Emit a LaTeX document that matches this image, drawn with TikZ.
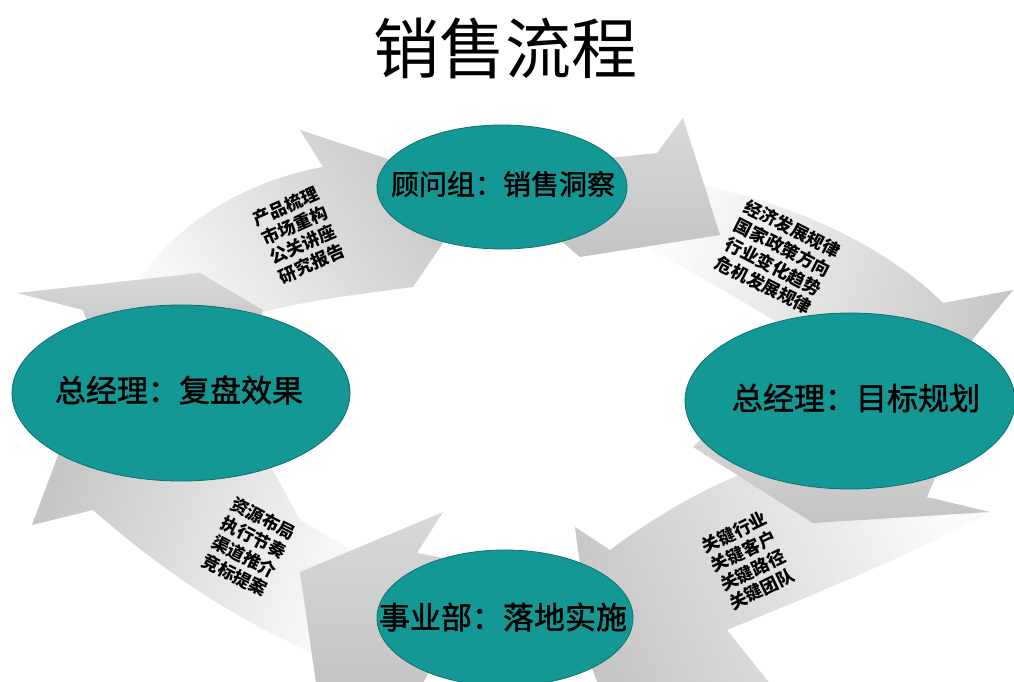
\documentclass[tikz,border=0pt]{standalone}
\usepackage{fontspec}
\newfontfamily\cjk{Noto Sans CJK SC}
\newfontfamily\cjkhei[FakeBold=1.6]{Noto Sans CJK SC}
\usetikzlibrary{shapes.geometric}
\definecolor{tealfill}{RGB}{20,152,150}
\definecolor{tealedge}{RGB}{12,112,110}
\definecolor{headgray}{RGB}{198,198,198}
\definecolor{tailgray}{RGB}{250,250,250}
\definecolor{wedgetop}{RGB}{216,216,216}
\definecolor{wedgebot}{RGB}{196,196,196}
\begin{document}
\begin{tikzpicture}[x=1pt,y=-1pt,
  ell/.style={ellipse, fill=tealfill, draw=tealedge, line width=0.8pt, inner sep=0pt},
  elltext/.style={font=\cjkhei\fontsize{31}{33}\selectfont, text=black, inner sep=0pt},
  lab/.style={font=\cjk\bfseries\fontsize{17.5}{21}\selectfont, align=left, inner sep=0pt, text=black},
  wedge/.style={top color=wedgetop, bottom color=wedgebot},
]
\useasboundingbox (0,0) rectangle (1014,682);
\fill[white] (0,0) rectangle (1014,682);

% arrow 1 : left -> top
\shade[top color=headgray, bottom color=tailgray, shading angle=-57]
 (120,340) -- (140,278) .. controls (180,220) and (250,180) .. (323,167)
 -- (300,130) -- (385,158) -- (470,190) -- (445,240) -- (413,287)
 .. controls (360,294) and (310,300) .. (263,312) -- (250,345) -- cycle;
% arrow 2 : top -> right
\shade[top color=headgray, bottom color=tailgray, shading angle=-107]
 (700,185) .. controls (800,205) and (890,250) .. (943,303)
 -- (1013,290) -- (960,355) -- (880,420) -- (740,370) -- (790,330)
 .. controls (740,300) and (690,270) .. (650,250) -- cycle;
% arrow 3 : right -> bottom
\shade[top color=headgray, bottom color=tailgray, shading angle=113]
 (985,515) .. controls (900,560) and (800,600) .. (727,630)
 -- (775,690) -- (600,690) -- (560,580) -- (580,565) -- (575,527) -- (610,550)
 .. controls (650,520) and (700,490) .. (740,475) -- cycle;
% arrow 4 : bottom -> left
\shade[top color=headgray, bottom color=tailgray, shading angle=71]
 (330,660) .. controls (230,620) and (150,560) .. (93,510)
 -- (32,525) -- (60,450) -- (180,430) -- (270,465) -- (300,520) -- (360,555) -- cycle;

% far-side wedges of the heads
\shade[wedge] (590,160) -- (657,153) -- (683,118) -- (720,235) -- (580,257) -- (560,240) -- cycle;
\shade[wedge] (945,455) -- (927,497) -- (990,512) -- (813,523) -- (693,447) -- (720,420) -- cycle;
\shade[wedge] (480,565) -- (417,553) -- (443,512) -- (300,572) -- (317,690) -- (420,690) -- cycle;
\shade[wedge] (90,330) -- (83,310) -- (17,293) -- (200,273) -- (263,310) -- (250,340) -- cycle;

% ellipses
\node[ell, minimum width=250pt, minimum height=124pt] (top) at (502,187) {};
\node[ell, minimum width=330pt, minimum height=176pt] (right) at (850,401) {};
\node[ell, minimum width=256pt, minimum height=136pt] (bottom) at (505,618) {};
\node[ell, minimum width=338pt, minimum height=176pt] (left) at (181,393) {};

\node[elltext, font=\cjkhei\fontsize{28}{30}\selectfont] (topt) at (503,184) {顾问组：销售洞察};
\node[elltext] (rightt) at (856,398) {总经理：目标规划};
\node[elltext] (bottomt) at (503,617) {事业部：落地实施};
\node[elltext] (leftt) at (179,390) {总经理：复盘效果};

% arrow labels
\node[lab, rotate=24] (l1) at (299,235) {产品梳理\\市场重构\\公关讲座\\研究报告};
\node[lab, rotate=-27] (l2) at (778,257) {经济发展规律\\国家政策方向\\行业变化趋势\\危机发展规律};
\node[lab, rotate=26] (l3) at (748,561) {关键行业\\关键客户\\关键路径\\关键团队};
\node[lab, rotate=-27] (l4) at (249,547) {资源布局\\执行节奏\\渠道推介\\竞标提案};

% title
\node[font=\cjk\fontsize{66}{70}\selectfont, inner sep=0pt] (title) at (505,48) {销售流程};
\end{tikzpicture}
\end{document}
